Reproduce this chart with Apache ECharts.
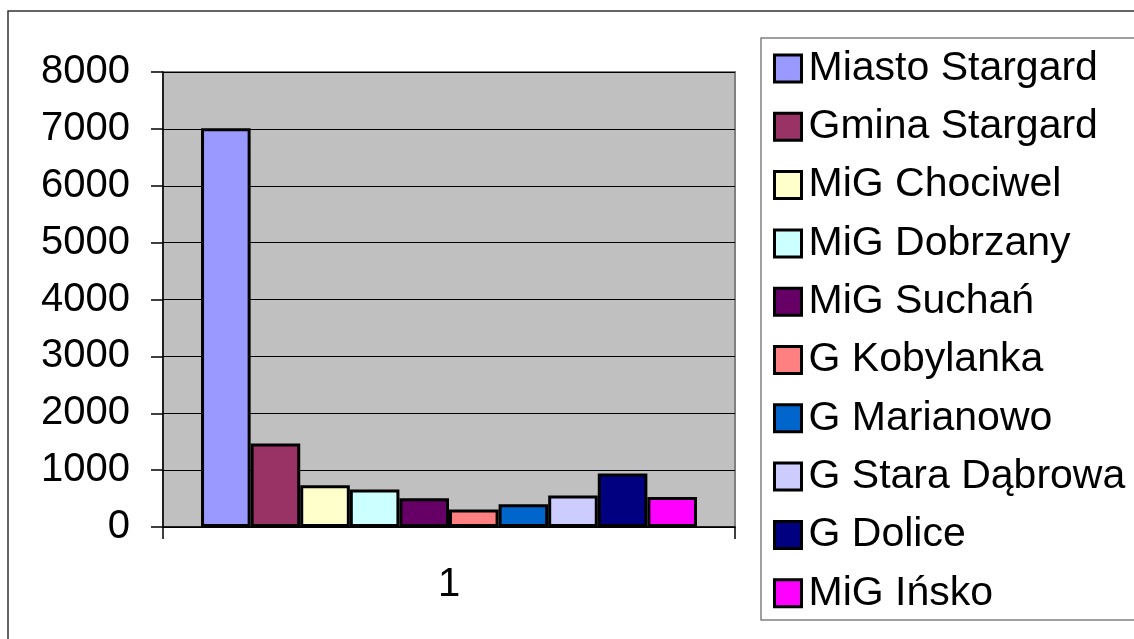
<!DOCTYPE html>
<html>
<head>
<meta charset="utf-8">
<script src="https://cdn.jsdelivr.net/npm/echarts@6/dist/echarts.min.js"></script>
<style>
html,body{margin:0;padding:0;background:#fff;}
#c{width:1134px;height:639px;}
</style>
</head>
<body>
<div id="c"></div>
<script>
const categories = ['1'];
const seriesNames = ['Miasto Stargard','Gmina Stargard','MiG Chociwel','MiG Dobrzany','MiG Suchań','G Kobylanka','G Marianowo','G Stara Dąbrowa','G Dolice','MiG Ińsko'];
const seriesValues = [7010, 1470, 735, 660, 505, 306, 400, 553, 940, 528];
const seriesColors = ['#9999FF','#993366','#FFFFCC','#CCFFFF','#660066','#FF8080','#0066CC','#CCCCFF','#000080','#FF00FF'];
const yTicks = [0,1000,2000,3000,4000,5000,6000,7000,8000];

const FONT = "'Liberation Sans', Arial, sans-serif";
const chart = echarts.init(document.getElementById('c'), null, {renderer:'canvas'});

const series = seriesNames.map((n,i)=>({
  name: n,
  type: 'bar',
  data: [seriesValues[i]],
  barGap: '0%',
  barCategoryGap: '13.3%',
  itemStyle: {color: seriesColors[i], borderColor:'#000', borderWidth:3},
  emphasis: {disabled:true},
  animation: false
}));

chart.setOption({
  animation: false,
  textStyle: {fontFamily: FONT},
  graphic: [
    {type:'rect', shape:{x:8,y:11,width:1140,height:640}, style:{fill:'none', stroke:'#333', lineWidth:1.5}, z:-10},
    {type:'rect', shape:{x:761,y:38,width:400,height:582}, style:{fill:'#fff', stroke:'#808080', lineWidth:1.5}, z:-5}
  ],
  grid: {left:163, top:72, right:399, bottom:112, show:true, backgroundColor:'#C0C0C0', borderColor:'#808080', borderWidth:2},
  legend: {
    orient:'vertical', left:773, top:48, padding:0,
    itemWidth:27, itemHeight:27, itemGap:17.3,
    icon:'rect',
    data: seriesNames.map((n,i)=>({name:n, itemStyle:{color:seriesColors[i], borderColor:'#000', borderWidth:3}})),
    textStyle:{fontFamily:FONT, fontSize:41, color:'#000', lineHeight:40, padding:[0,0,0,2]},
    selectedMode:false
  },
  xAxis: {
    type:'category', data: categories,
    axisLine:{show:true, lineStyle:{color:'#000', width:1.5}},
    axisTick:{show:true, length:12, lineStyle:{color:'#000', width:1.5}},
    axisLabel:{fontFamily:FONT, fontSize:40, color:'#000', margin:38}
  },
  yAxis: {
    type:'value', min:0, max:8000, interval:1000,
    axisLine:{show:true, lineStyle:{color:'#000', width:1.5}},
    axisTick:{show:true, length:12, lineStyle:{color:'#000', width:1.5}},
    axisLabel:{fontFamily:FONT, fontSize:40, color:'#000', margin:33,
      formatter: v => yTicks.includes(v) ? String(v) : ''},
    splitLine:{show:true, lineStyle:{color:'#000', width:1}}
  },
  series: series
});
</script>
</body>
</html>
